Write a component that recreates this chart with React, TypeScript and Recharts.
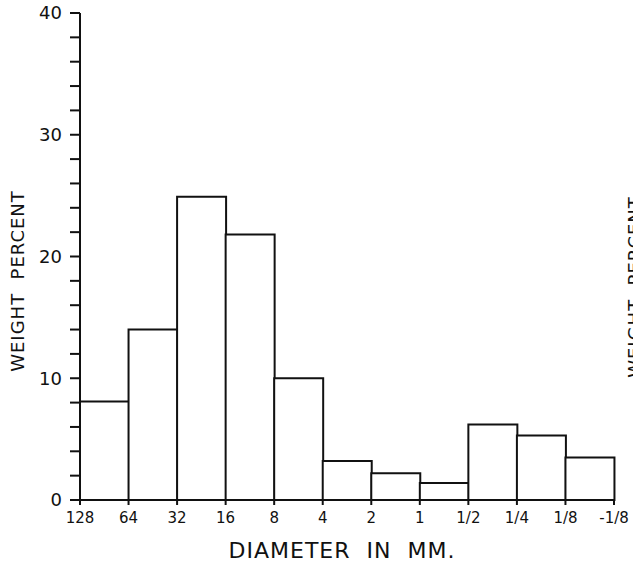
import { BarChart, Bar, XAxis, YAxis } from 'recharts';

// bin edges (diameter in mm), left to right
const EDGES = ['128', '64', '32', '16', '8', '4', '2', '1', '1/2', '1/4', '1/8', '-1/8'];
// bins between consecutive edges
const BINS = ['128-64', '64-32', '32-16', '16-8', '8-4', '4-2', '2-1', '1-1/2', '1/2-1/4', '1/4-1/8', '1/8-(-1/8)'];
const WEIGHT = [8.1, 14.0, 24.9, 21.8, 10.0, 3.2, 2.2, 1.4, 6.2, 5.3, 3.5];
const Y_TICKS = [0, 2, 4, 6, 8, 10, 12, 14, 16, 18, 20, 22, 24, 26, 28, 30, 32, 34, 36, 38, 40];

const FONT = '"DejaVu Sans", sans-serif';
const INK = '#111';

const W = 633;
const H = 566;
const MARGIN = { top: 13, right: 19, left: 0, bottom: 30 };
const Y_AXIS_W = 80;
const BAND = (W - MARGIN.left - MARGIN.right - Y_AXIS_W) / BINS.length;

const data = BINS.map((bin, i) => ({ bin, weight: WEIGHT[i] }));

// ticks sit on the bin edges, not the bin centres
function EdgeTick(props: any) {
  const { x, y, index } = props;
  const marks = [{ x: x - BAND / 2, label: EDGES[index] }];
  if (index === BINS.length - 1) marks.push({ x: x + BAND / 2, label: EDGES[index + 1] });
  return (
    <g>
      {marks.map((m) => (
        <g key={m.label}>
          <line x1={m.x} x2={m.x} y1={y} y2={y + 5} stroke={INK} strokeWidth={2} />
          <text x={m.x} y={y + 23} textAnchor="middle" fill={INK} fontSize={15} fontFamily={FONT}>
            {m.label}
          </text>
        </g>
      ))}
    </g>
  );
}

export default function App() {
  return (
    <div style={{ position: 'absolute', left: 0, top: 0, width: W, height: H, overflow: 'hidden', background: '#fff', fontFamily: FONT }}>
      <BarChart width={W} height={H} data={data} margin={MARGIN} barCategoryGap={0} barGap={0}>
        <XAxis
          dataKey="bin"
          height={36}
          interval={0}
          axisLine={{ stroke: INK, strokeWidth: 2 }}
          tickLine={false}
          tickSize={0}
          tickMargin={0}
          tick={<EdgeTick />}
        />
        <YAxis
          domain={[0, 40]}
          ticks={Y_TICKS}
          interval={0}
          width={Y_AXIS_W}
          tickFormatter={(v: number) => (v % 10 === 0 ? String(v) : '')}
          axisLine={{ stroke: INK, strokeWidth: 2 }}
          tickLine={{ stroke: INK, strokeWidth: 2 }}
          tickSize={10}
          tickMargin={8}
          tick={{ fill: INK, fontSize: 18, fontFamily: FONT }}
        />
        <Bar dataKey="weight" fill="#fff" stroke={INK} strokeWidth={2} isAnimationActive={false} />
      </BarChart>
      <div
        style={{
          position: 'absolute', left: 17, top: 281, transform: 'translate(-50%, -50%) rotate(-90deg)',
          whiteSpace: 'pre', fontSize: 18, color: INK, letterSpacing: 1,
        }}
      >
        {'WEIGHT  PERCENT'}
      </div>
      <div
        style={{
          position: 'absolute', left: 342, top: 550, transform: 'translate(-50%, -50%)',
          whiteSpace: 'pre', fontSize: 22, color: INK, letterSpacing: 1,
        }}
      >
        {'DIAMETER  IN  MM.'}
      </div>
      <div
        style={{
          position: 'absolute', left: 634, top: 287, transform: 'translate(-50%, -50%) rotate(-90deg)',
          whiteSpace: 'pre', fontSize: 18, color: INK, letterSpacing: 1,
        }}
      >
        {'WEIGHT  PERCENT'}
      </div>
    </div>
  );
}
